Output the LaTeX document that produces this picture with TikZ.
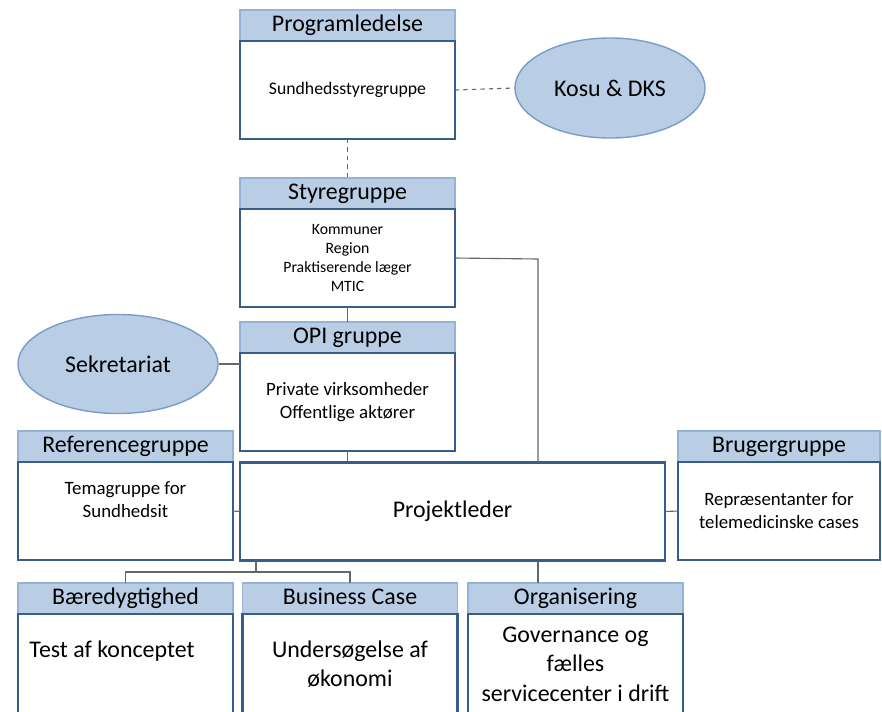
\documentclass[tikz,border=0pt]{standalone}
\usepackage{fontspec}
\setmainfont{Carlito}
\usetikzlibrary{positioning,shapes.geometric}

\definecolor{hdrfill}{HTML}{B9CDE5}
\definecolor{hdrline}{HTML}{95B3D7}
\definecolor{bodyline}{HTML}{385D8A}
\definecolor{ovalline}{HTML}{7A9CCB}
\definecolor{linkgray}{HTML}{666666}

\tikzset{
  hdr/.style={draw=hdrline, fill=hdrfill, line width=1.2pt, outer sep=0pt, inner sep=0pt,
    minimum width=5.375cm, minimum height=0.775cm, text height=12pt, text depth=3.5pt,
    font=\fontsize{17}{21}\selectfont},
  body/.style={draw=bodyline, fill=white, line width=1.6pt, outer sep=0pt, inner sep=2pt,
    minimum width=5.375cm, minimum height=2.45cm, align=center},
  oval/.style={ellipse, draw=ovalline, fill=hdrfill, line width=1pt, inner sep=0pt,
    font=\fontsize{17}{21}\selectfont},
  link/.style={draw=linkgray, line width=0.8pt},
  big/.style={font=\fontsize{17}{21}\selectfont},
  mid/.style={font=\fontsize{13.4}{16.4}\selectfont},
  small/.style={font=\fontsize{11.2}{13.6}\selectfont}
}

\begin{document}
\begin{tikzpicture}[x=0.025cm, y=-0.025cm]
  \useasboundingbox (0,0) rectangle (882,711);
  \clip (0,0) rectangle (882,711);

  \node[hdr] (prog) at (347.5,25.5) {Programledelse};
  \node[body, below=0pt of prog, font=\fontsize{12.6}{15}\selectfont] (progbody) {Sundhedsstyregruppe};
  \node[oval, minimum width=4.75cm, minimum height=2.5cm] (kosu) at (610,88) {Kosu \& DKS};

  \node[hdr] (styre) at (347.5,193.5) {Styregruppe};
  \node[body, below=0pt of styre, small] (styrebody) {Kommuner\\Region\\Praktiserende læger\\MTIC};

  \node[hdr] (opi) at (347.5,337.5) {OPI gruppe};
  \node[body, below=0pt of opi, mid] (opibody) {Private virksomheder\\Offentlige aktører};
  \node[oval, minimum width=5cm, minimum height=2.475cm] (sek) at (118,364) {Sekretariat};

  \node[hdr] (ref) at (125.5,446.5) {Referencegruppe};
  \node[body, below=0pt of ref, mid] (refbody) {Temagruppe for\\Sundhedsit\\\mbox{}};

  \node[body, minimum width=10.625cm, big] (proj) at (452.5,511.5) {Projektleder};

  \node[hdr, minimum width=5.05cm] (brug) at (779,446.5) {Brugergruppe};
  \node[body, below=0pt of brug, minimum width=5.05cm, mid] (brugbody) {Repræsentanter for\\telemedicinske cases};

  \node[hdr] (baer) at (125.5,598.5) {Bæredygtighed};
  \node[body, below=0pt of baer, minimum height=2.5cm, big, align=flush left, text width=4.8cm, inner xsep=0.28cm] (baerbody) {Test af konceptet\\\mbox{}};
  \node[hdr] (biz) at (350,598.5) {Business Case};
  \node[body, below=0pt of biz, minimum height=2.5cm, big] (bizbody) {Undersøgelse af\\økonomi};
  \node[hdr] (org) at (575.5,598.5) {Organisering};
  \node[body, below=0pt of org, minimum height=2.5cm, big] (orgbody) {Governance og\\fælles\\servicecenter i drift};

  \coordinate (split) at (256,572);
  \coordinate (rline) at (538,259);

  \draw[link, dashed] (progbody.east) -- (kosu.west);
  \draw[link, dashed] (progbody.south) -- (styre.north);
  \draw[link] (styrebody.south) -- (opi.north);
  \draw[link] (styrebody.east) -- (rline) -- (rline |- proj.north);
  \draw[link] (sek.east) -- (sek.east -| opibody.west);
  \draw[link] (opibody.south) -- (opibody.south |- proj.north);
  \draw[link] (refbody.east) -- (proj.west);
  \draw[link] (proj.east) -- (brugbody.west);
  \draw[link] (split |- proj.south) -- (split);
  \draw[link] (baer.north) |- (split) -| (biz.north);
  \draw[link] (rline |- proj.south) -- (rline |- org.north);
\end{tikzpicture}
\end{document}
